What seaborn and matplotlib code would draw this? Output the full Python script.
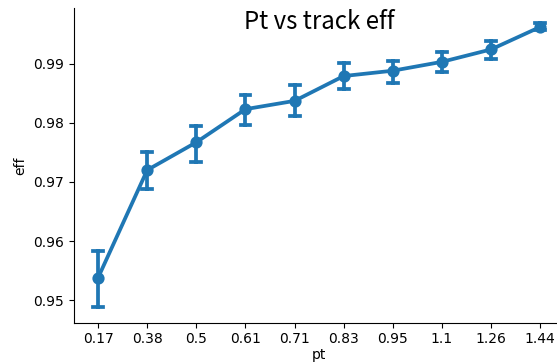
import matplotlib
matplotlib.use("Agg")
import matplotlib.pyplot as plt
import seaborn as sns
import pandas as pd

# Transverse-momentum bins and tracking efficiency per bin
pt_bins = ["0.17", "0.38", "0.5", "0.61", "0.71", "0.83", "0.95", "1.1", "1.26", "1.44"]
eff_mean = [0.9538, 0.9720, 0.9767, 0.9823, 0.9837, 0.9879, 0.9888, 0.9903, 0.9924, 0.9962]
eff_low = [0.9489, 0.9688, 0.9733, 0.9796, 0.9812, 0.9857, 0.9867, 0.9885, 0.9908, 0.9956]
eff_high = [0.9584, 0.9751, 0.9795, 0.9847, 0.9864, 0.9901, 0.9905, 0.9920, 0.9938, 0.9968]

rows = []
for pt, lo, mid, hi in zip(pt_bins, eff_low, eff_mean, eff_high):
    for v in (lo, mid, hi):
        rows.append({"pt": pt, "eff": v})
df = pd.DataFrame(rows)

fig = plt.figure(figsize=(5.57, 3.64), dpi=100)
ax = fig.add_axes([0.132, 0.1135, 0.882, 0.8645])

sns.pointplot(
    data=df, x="pt", y="eff", order=pt_bins,
    estimator="median",
    errorbar=lambda v: (v.min(), v.max()),
    capsize=0.2, color="#1f77b4", ax=ax,
)
sns.despine(ax=ax)

ax.set_ylim(0.9462, 0.9994)
ax.set_yticks([0.95, 0.96, 0.97, 0.98, 0.99])
ax.set_xlim(-0.5, 9.5)
ax.set_xlabel("pt", labelpad=1.5)

ax.set_title("Pt vs track eff", y=0.932, pad=0, fontsize=17.3,
             family=["Noto Sans CJK SC", "DejaVu Sans"], fontweight="light")

fig.savefig("out.png", dpi=100)
